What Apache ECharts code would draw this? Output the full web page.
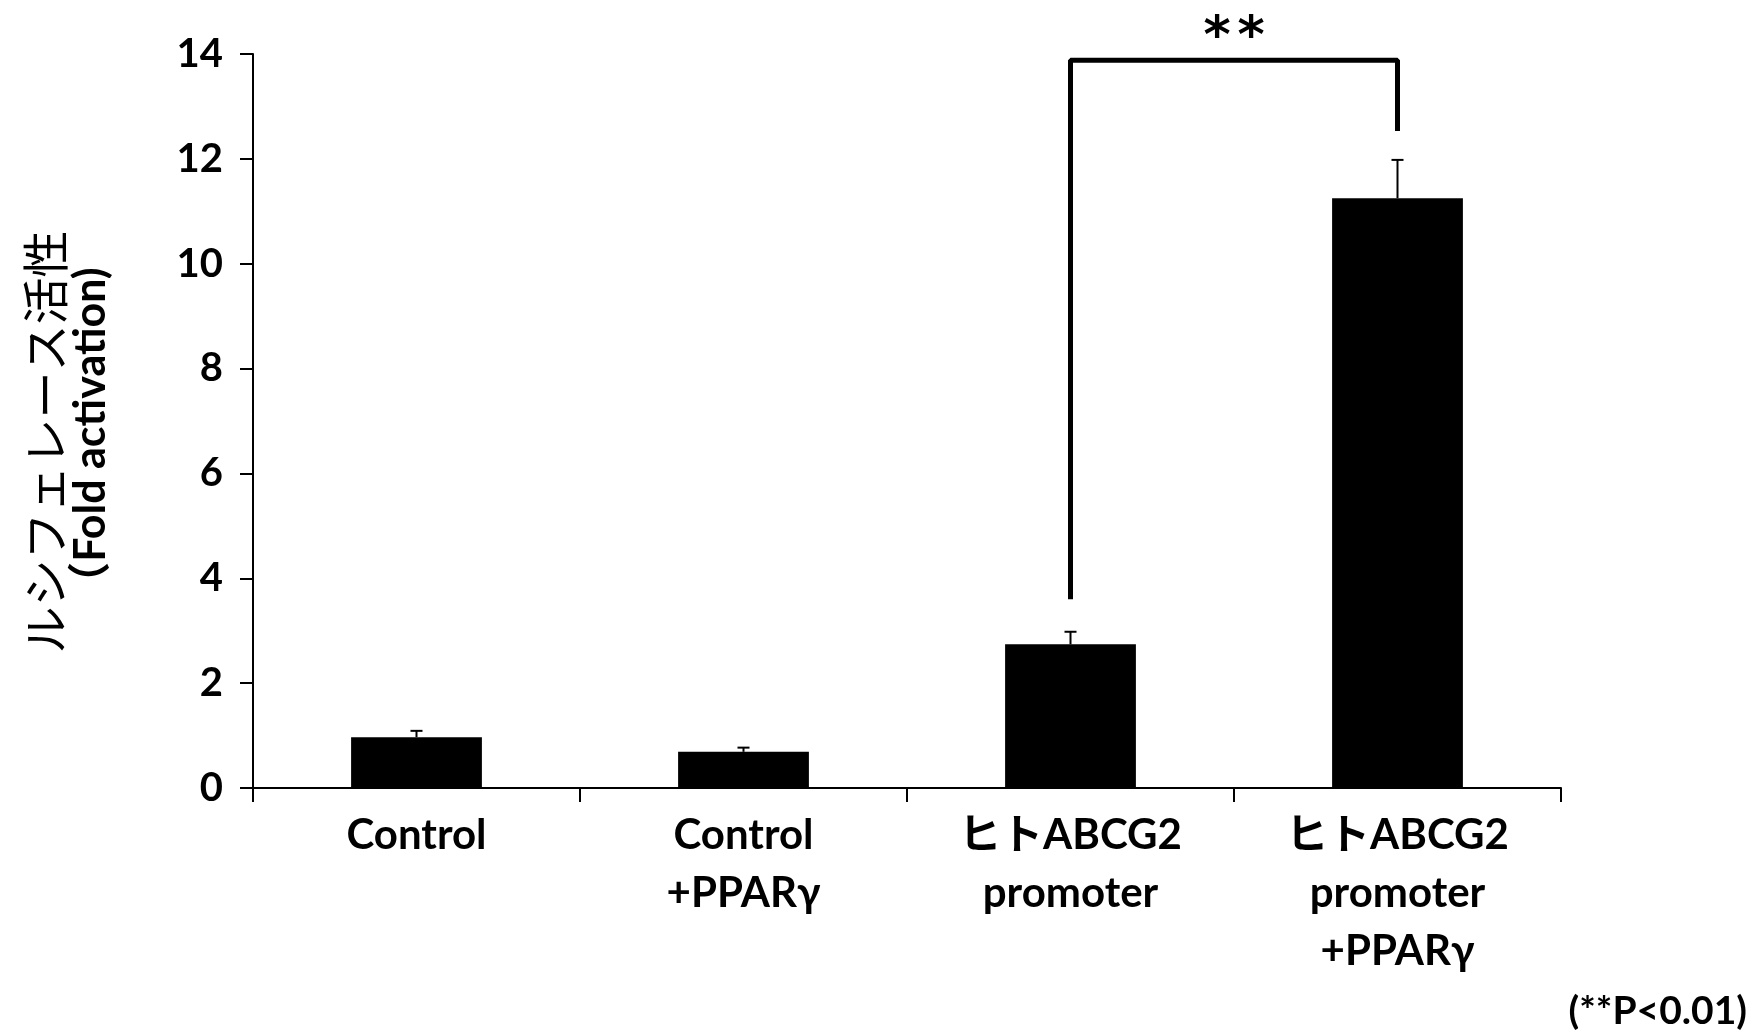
<!DOCTYPE html>
<html>
<head>
<meta charset="utf-8">
<script src="https://cdn.jsdelivr.net/npm/echarts@6/dist/echarts.min.js"></script>
<style>
html,body{margin:0;padding:0;background:#fff;}
#c{width:1756px;height:1033px;}
</style>
</head>
<body>
<div id="c"></div>
<script>
var categories = ['Control', 'Control\n+PPARγ', 'ヒトABCG2\npromoter', 'ヒトABCG2\npromoter\n+PPARγ'];
var values = [0.97, 0.69, 2.74, 11.25];
var errors = [0.12, 0.08, 0.24, 0.73];
var bracketPoints = [[2, 3.6], [2, 13.88], [3, 13.88], [3, 12.53]];
var yMin = 0, yMax = 14, yInterval = 2;
var yNameLine1 = 'ルシフェレース活性';
var yNameLine2 = '（Fold activation)';
var sigStar = '*';
var footnote = '(**P<0.01)';

var LAT = 'Lato, "Noto Sans CJK JP", sans-serif';
var chart = echarts.init(document.getElementById('c'), null, {renderer: 'canvas'});

var errData = values.map(function (v, i) { return [i, v, v + errors[i]]; });

chart.setOption({
  animation: false,
  backgroundColor: '#ffffff',
  grid: {left: 253, right: 195, top: 54, bottom: 245, containLabel: false},
  xAxis: {
    type: 'category',
    data: categories,
    boundaryGap: true,
    axisLine: {lineStyle: {color: '#000', width: 2}},
    axisTick: {show: true, length: 14, lineStyle: {color: '#000', width: 2}},
    axisLabel: {
      color: '#000', fontFamily: LAT, fontWeight: 'bold', fontSize: 42,
      lineHeight: 58, margin: 18, interval: 0
    },
    splitLine: {show: false}
  },
  yAxis: {
    type: 'value',
    min: yMin, max: yMax, interval: yInterval,
    axisLine: {show: true, lineStyle: {color: '#000', width: 2}},
    axisTick: {show: true, length: 13, lineStyle: {color: '#000', width: 2}},
    axisLabel: {color: '#000', fontFamily: LAT, fontWeight: 'bold', fontSize: 40, margin: 30},
    splitLine: {show: false}
  },
  series: [
    {
      type: 'bar',
      data: values,
      barWidth: '40%',
      itemStyle: {color: '#000'},
      z: 2
    },
    {
      type: 'custom',
      data: errData,
      z: 3,
      renderItem: function (params, api) {
        var x = api.value(0);
        var lo = api.coord([x, api.value(1)]);
        var hi = api.coord([x, api.value(2)]);
        var cap = 6;
        var s = {stroke: '#000', lineWidth: 2};
        return {
          type: 'group',
          children: [
            {type: 'line', shape: {x1: lo[0], y1: lo[1], x2: hi[0], y2: hi[1]}, style: s},
            {type: 'line', shape: {x1: hi[0] - cap, y1: hi[1], x2: hi[0] + cap, y2: hi[1]}, style: s}
          ]
        };
      }
    },
    {
      type: 'line',
      data: bracketPoints,
      symbol: 'none',
      lineStyle: {color: '#000', width: 5},
      z: 4
    }
  ]
});

var p1 = chart.convertToPixel({gridIndex: 0}, [2, 13.88]);
var p2 = chart.convertToPixel({gridIndex: 0}, [3, 13.88]);
var midX = (p1[0] + p2[0]) / 2;

chart.setOption({
  graphic: [
    {
      type: 'text', x: 45, y: 442, rotation: Math.PI / 2,
      style: {text: yNameLine1, fill: '#000', fontSize: 47, fontFamily: '"Noto Sans CJK JP"', fontWeight: 'normal', align: 'center', verticalAlign: 'middle'}
    },
    {
      type: 'text', x: 91, y: 436, rotation: Math.PI / 2,
      style: {text: yNameLine2, fill: '#000', fontSize: 43, fontFamily: LAT, fontWeight: 'bold', align: 'center', verticalAlign: 'middle'}
    },
    {
      type: 'text', x: 1747, y: 1011,
      style: {text: footnote, fill: '#000', fontSize: 39, fontFamily: LAT, fontWeight: 'bold', align: 'right', verticalAlign: 'middle'}
    },
    {
      type: 'text', x: midX - 17, y: 38,
      style: {text: sigStar, fill: '#000', fontSize: 52, fontFamily: '"DejaVu Sans"', fontWeight: 'bold', align: 'center', verticalAlign: 'middle'}
    },
    {
      type: 'text', x: midX + 17, y: 38,
      style: {text: sigStar, fill: '#000', fontSize: 52, fontFamily: '"DejaVu Sans"', fontWeight: 'bold', align: 'center', verticalAlign: 'middle'}
    }
  ]
});
</script>
</body>
</html>
